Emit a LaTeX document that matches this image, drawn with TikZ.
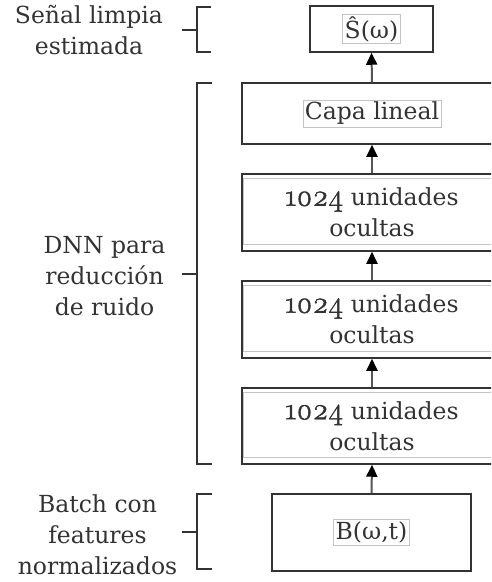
\documentclass[tikz,border=0pt]{standalone}
\usepackage{fontspec}
\setmainfont{DejaVu Serif}
\newfontfamily\osnum{Latin Modern Roman}[Numbers=OldStyle, Scale=1.3, FakeBold=1.5]
\usetikzlibrary{arrows.meta}
\definecolor{ink}{HTML}{333333}
\definecolor{shaft}{HTML}{555555}
\definecolor{faint}{HTML}{C4C4C4}
\tikzset{
  blk/.style={draw=ink, line width=1.5pt, fill=white, inner sep=0pt},
  txt/.style={text=ink, font=\fontsize{23.5}{31}\selectfont, align=center, inner sep=0pt},
  tframe/.style={draw=faint, line width=0.7pt, inner sep=2pt, text=ink,
                 font=\fontsize{23.5}{31}\selectfont, align=center},
  flow/.style={draw=shaft, line width=2pt,
               arrows={-Triangle[length=12pt,width=11pt,color=black]}},
  brace/.style={draw=ink, line width=1.3pt},
}
\begin{document}
\begin{tikzpicture}[x=1pt,y=-1pt]
  \useasboundingbox (0,0) rectangle (491,582);
  \clip (0,0) rectangle (491,582);

  % network blocks
  \node[blk, minimum width=123pt, minimum height=46pt] (shat) at (371.5,29) {};
  \node[blk, minimum width=260pt, minimum height=61pt] (capa) at (372,113.5) {};
  \node[blk, minimum width=260pt, minimum height=77pt] (h1) at (372,212.5) {};
  \node[blk, minimum width=260pt, minimum height=77pt] (h2) at (372,319.5) {};
  \node[blk, minimum width=260pt, minimum height=76pt] (h3) at (372,426) {};
  \node[blk, minimum width=199pt, minimum height=77pt] (bin) at (371.5,532.5) {};

  % inner text frames of the hidden layers
  \foreach \h in {h1,h2,h3}{
    \draw[faint, line width=0.8pt] ([shift={(2,5)}]\h.north west) rectangle ([shift={(0,-7)}]\h.south east);
  }

  % block texts
  \node[tframe] (shatT) at (shat) {Ŝ(ω)};
  \node[tframe] (capaT) at (capa) {Capa lineal};
  \node[txt] (h1T) at (h1) {{\osnum 1024} unidades\\ocultas};
  \node[txt] (h2T) at (h2) {{\osnum 1024} unidades\\ocultas};
  \node[txt] (h3T) at (h3) {{\osnum 1024} unidades\\ocultas};
  \node[tframe] (binT) at (bin) {B(ω,t)};

  % data flow
  \draw[flow] (bin.north) -- (h3.south);
  \draw[flow] (h3.north) -- (h2.south);
  \draw[flow] (h2.north) -- (h1.south);
  \draw[flow] (h1.north) -- (capa.south);
  \draw[flow] (capa.north) -- (shat.south);

  % side brackets
  \coordinate (bt1) at (211,7);   \coordinate (bb1) at (211,52);  \coordinate (bm1) at (182,30);
  \coordinate (bt2) at (212,83);  \coordinate (bb2) at (212,464); \coordinate (bm2) at (182,274);
  \coordinate (bt3) at (212,494); \coordinate (bb3) at (212,569); \coordinate (bm3) at (182,532);
  \foreach \i in {1,2,3}{
    \draw[brace] (bt\i) -- (197,0 |- bt\i) -- (197,0 |- bb\i) -- (bb\i);
    \draw[brace] (bm\i) -- (197,0 |- bm\i);
  }

  % side labels
  \node[txt] (lab1) at (89,30) {Señal limpia\\estimada};
  \node[txt] (lab2) at (104.5,276) {DNN para\\reducción\\de ruido};
  \node[txt] (lab3) at (97.5,535) {Batch con\\features\\normalizados};
\end{tikzpicture}
\end{document}
